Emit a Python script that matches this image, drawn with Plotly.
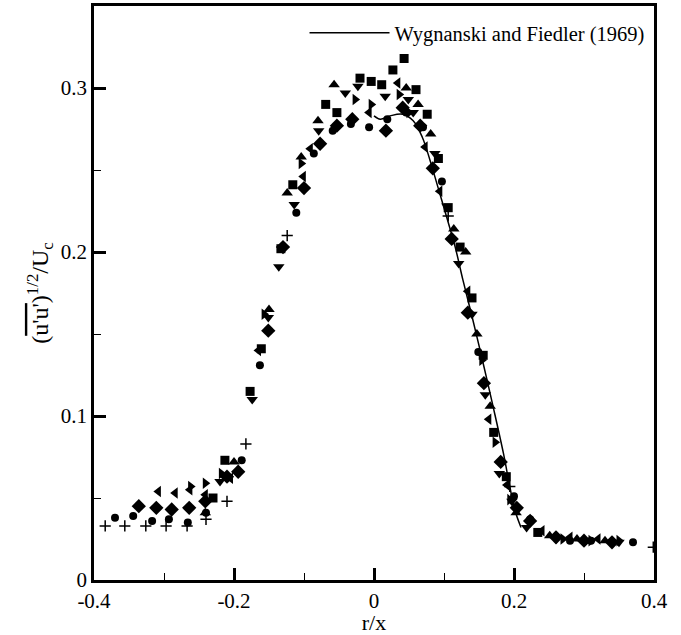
import plotly.graph_objects as go

# ---- data ----
circle_x = [-0.370, -0.344, -0.317, -0.293, -0.266, -0.240, -0.189, -0.163, -0.111, -0.086, -0.059, -0.033, -0.007,
            0.019, 0.046, 0.070, 0.097, 0.149, 0.200, 0.223, 0.28, 0.31, 0.34, 0.37]
circle_y = [0.038, 0.039, 0.036, 0.037, 0.035, 0.041, 0.073, 0.131, 0.224, 0.260, 0.274, 0.278, 0.276,
            0.281, 0.285, 0.276, 0.243, 0.139, 0.051, 0.037, 0.024, 0.024, 0.023, 0.023]

square_x = [-0.230, -0.213, -0.177, -0.161, -0.133, -0.116, -0.069, -0.053, -0.020, -0.004, 0.011, 0.027, 0.043,
            0.060, 0.076, 0.092, 0.106, 0.123, 0.140, 0.156, 0.171, 0.189, 0.234]
square_y = [0.050, 0.073, 0.115, 0.141, 0.202, 0.241, 0.290, 0.285, 0.306, 0.304, 0.302, 0.311, 0.318,
            0.299, 0.284, 0.257, 0.227, 0.203, 0.172, 0.137, 0.090, 0.063, 0.029]

tri_up_x = [-0.241, -0.200, -0.150, -0.124, -0.104, -0.080, -0.057, 0.046, 0.063, 0.081, 0.114, 0.131, 0.147,
            0.166, 0.203, 0.251, 0.29, 0.33]
tri_up_y = [0.041, 0.072, 0.165, 0.236, 0.258, 0.280, 0.302, 0.300, 0.290, 0.272, 0.214, 0.200, 0.150,
            0.106, 0.041, 0.027, 0.025, 0.024]

tri_down_x = [-0.220, -0.174, -0.151, -0.136, -0.114, -0.079, -0.041, -0.023, 0.016, 0.049, 0.056, 0.087, 0.104,
              0.121, 0.140, 0.159, 0.179, 0.197, 0.218, 0.26, 0.30, 0.35]
tri_down_y = [0.060, 0.110, 0.160, 0.191, 0.229, 0.274, 0.297, 0.301, 0.295, 0.293, 0.285, 0.260, 0.228,
              0.193, 0.162, 0.113, 0.065, 0.048, 0.032, 0.025, 0.024, 0.023]

tri_left_x = [-0.308, -0.284, -0.263, -0.241, -0.205, -0.165, -0.101, -0.091, -0.007, 0.034, 0.073, 0.094, 0.134,
              0.164, 0.190, 0.24, 0.28, 0.32]
tri_left_y = [0.054, 0.053, 0.055, 0.052, 0.062, 0.140, 0.246, 0.263, 0.285, 0.303, 0.264, 0.237, 0.176,
              0.098, 0.058, 0.030, 0.026, 0.025]

tri_right_x = [-0.262, -0.241, -0.218, -0.157, -0.104, -0.027, -0.004, 0.036, 0.050, 0.154, 0.173, 0.194,
               0.27, 0.31, 0.35]
tri_right_y = [0.057, 0.059, 0.065, 0.162, 0.254, 0.293, 0.290, 0.296, 0.285, 0.134, 0.084, 0.049,
               0.025, 0.024, 0.024]

diamond_x = [-0.336, -0.311, -0.289, -0.264, -0.241, -0.210, -0.194, -0.151, -0.130, -0.100, -0.077, -0.053, -0.031,
             0.017, 0.041, 0.066, 0.084, 0.111, 0.134, 0.157, 0.181, 0.204, 0.223, 0.26, 0.30, 0.34]
diamond_y = [0.045, 0.044, 0.043, 0.044, 0.048, 0.063, 0.066, 0.152, 0.203, 0.239, 0.266, 0.277, 0.281,
             0.274, 0.288, 0.277, 0.251, 0.208, 0.163, 0.120, 0.072, 0.044, 0.036, 0.026, 0.024, 0.023]

plus_x = [-0.384, -0.356, -0.326, -0.297, -0.267, -0.240, -0.210, -0.183, -0.124, 0.106, 0.194, 0.399]
plus_y = [0.033, 0.033, 0.033, 0.033, 0.033, 0.037, 0.048, 0.083, 0.210, 0.222, 0.057, 0.020]

wf_x = [0.0, 0.009, 0.023, 0.041, 0.056, 0.069, 0.080, 0.091, 0.104, 0.116, 0.127, 0.141, 0.156, 0.170,
        0.185, 0.194, 0.201, 0.21]
wf_y = [0.283, 0.281, 0.283, 0.284, 0.280, 0.270, 0.256, 0.240, 0.221, 0.203, 0.183, 0.159, 0.132, 0.106,
        0.077, 0.057, 0.043, 0.032]

x_ticks = [-0.4, -0.2, 0, 0.2, 0.4]
x_tick_text = ["-0.4", "-0.2", "0", "0.2", "0.4"]
y_ticks = [0, 0.1, 0.2, 0.3]
y_tick_text = ["0", "0.1", "0.2", "0.3"]

FONT = "Liberation Serif"

fig = go.Figure()

series = [
    (circle_x, circle_y, "circle", 8),
    (square_x, square_y, "square", 9),
    (tri_up_x, tri_up_y, "triangle-up", 10),
    (tri_down_x, tri_down_y, "triangle-down", 10),
    (tri_left_x, tri_left_y, "triangle-left", 10),
    (tri_right_x, tri_right_y, "triangle-right", 10),
    (diamond_x, diamond_y, "diamond", 11),
]
for xs, ys, sym, sz in series:
    fig.add_trace(go.Scatter(x=xs, y=ys, mode="markers", showlegend=False,
                             marker=dict(symbol=sym, size=sz, color="black", line=dict(width=0))))

fig.add_trace(go.Scatter(x=plus_x, y=plus_y, mode="markers", showlegend=False,
                         marker=dict(symbol="cross-thin", size=8, color="black",
                                     line=dict(width=1.5, color="black"))))

fig.add_trace(go.Scatter(x=wf_x, y=wf_y, mode="lines", name="Wygnanski and Fiedler (1969)",
                         line=dict(color="black", width=1.5, shape="spline")))

fig.update_layout(
    width=681, height=635,
    margin=dict(l=94, r=27, t=6, b=55, autoexpand=False),
    paper_bgcolor="white", plot_bgcolor="white",
    font=dict(family=FONT, color="black", size=21),
    showlegend=True,
    legend=dict(x=0.992, y=0.988, xanchor="right", yanchor="top",
                bgcolor="rgba(0,0,0,0)", font=dict(size=20.5, family=FONT),
                itemwidth=80),
)

fig.update_xaxes(
    range=[-0.4, 0.4], tickvals=x_ticks, ticktext=x_tick_text,
    showgrid=False, zeroline=False,
    showline=True, linewidth=2.5, linecolor="black", mirror=True,
    ticks="inside", ticklen=12, tickwidth=2.5, tickcolor="black",
    minor=dict(dtick=0.1, ticks="inside", ticklen=7, tickwidth=1, tickcolor="black", showgrid=False),
    title=dict(text="r/x", font=dict(size=22, family=FONT), standoff=5),
    tickfont=dict(size=21, family=FONT),
)
fig.update_yaxes(
    range=[0, 0.35], tickvals=y_ticks, ticktext=y_tick_text,
    showgrid=False, zeroline=False,
    showline=True, linewidth=2.5, linecolor="black", mirror=True,
    ticks="inside", ticklen=12, tickwidth=2.5, tickcolor="black",
    minor=dict(dtick=0.05, ticks="inside", ticklen=7, tickwidth=1, tickcolor="black", showgrid=False),
    title=dict(text="(<span style=\"text-decoration:overline\">u'u'</span>)<sup>1/2</sup>/U<sub>c</sub>",
               font=dict(size=24, family=FONT), standoff=6),
    tickfont=dict(size=21, family=FONT),
)

fig.write_html("out.html")
